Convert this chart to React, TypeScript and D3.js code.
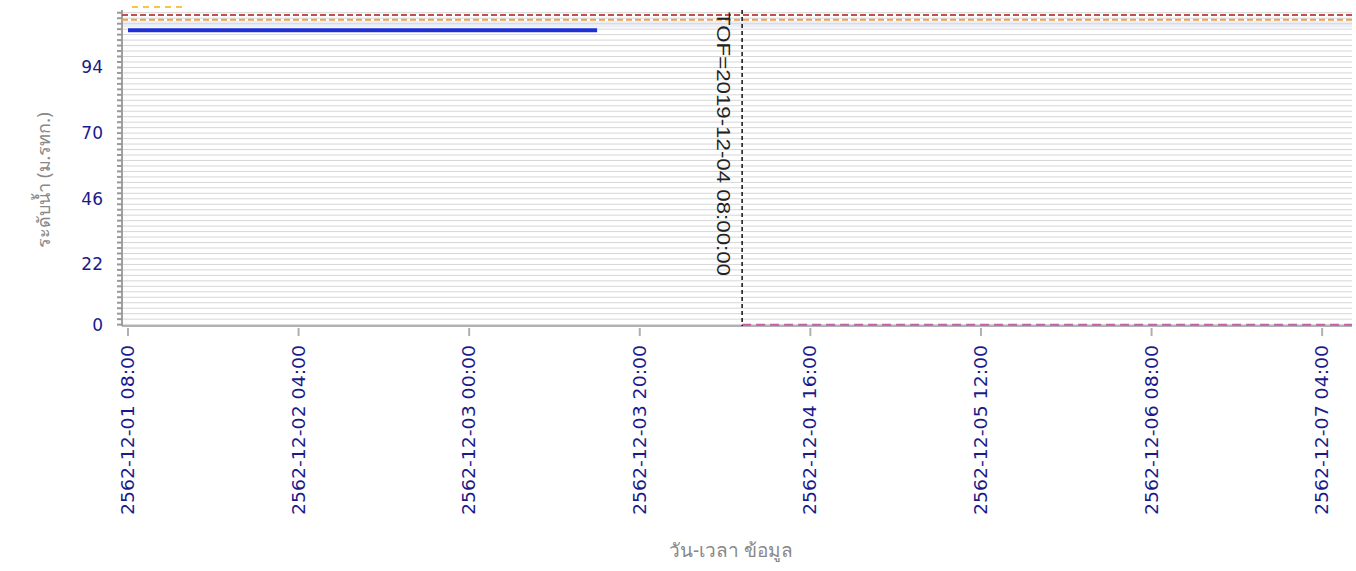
import React, { useEffect, useRef } from 'react';
import * as d3 from 'd3';

// Tick times (Gregorian) and their Buddhist-era labels
const tickTimes = [
  new Date(2019, 11, 1, 8), new Date(2019, 11, 2, 4), new Date(2019, 11, 3, 0), new Date(2019, 11, 3, 20),
  new Date(2019, 11, 4, 16), new Date(2019, 11, 5, 12), new Date(2019, 11, 6, 8), new Date(2019, 11, 7, 4),
];
const tickLabels = [
  '2562-12-01 08:00', '2562-12-02 04:00', '2562-12-03 00:00', '2562-12-03 20:00',
  '2562-12-04 16:00', '2562-12-05 12:00', '2562-12-06 08:00', '2562-12-07 04:00',
];
const yTicks = [0, 22, 46, 70, 94];

// Observed water level (blue)
const levelTimes = [
  new Date(2019, 11, 1, 8), new Date(2019, 11, 1, 16), new Date(2019, 11, 2, 0), new Date(2019, 11, 2, 8),
  new Date(2019, 11, 2, 16), new Date(2019, 11, 3, 0), new Date(2019, 11, 3, 8), new Date(2019, 11, 3, 15),
];
const levelValues = [107.6, 107.6, 107.6, 107.6, 107.6, 107.6, 107.6, 107.6];

// Reference levels
const bankLevel = 113.2;
const warnLevel = 111.4;
const forecastValue = 0;
const tofTime = new Date(2019, 11, 4, 8);
const domainStart = new Date(2019, 11, 1, 7, 18);
const domainEnd = new Date(2019, 11, 7, 7, 30);

const App: React.FC = () => {
  const svgRef = useRef<SVGSVGElement>(null);
  const width = 1356;
  const height = 571;
  const marginLeft = 122;
  const marginRight = 4;
  const marginTop = 10;
  const marginBottom = 245;

  useEffect(() => {
    if (!svgRef.current) return;
    const svg = d3.select(svgRef.current);
    svg.selectAll('*').remove();

    const innerWidth = width - marginLeft - marginRight;
    const innerHeight = height - marginTop - marginBottom;

    const x = d3.scaleTime().domain([domainStart, domainEnd]).range([0, innerWidth]);
    const y = d3.scaleLinear().domain([-0.5, 115]).range([innerHeight, 0]);

    const g = svg.append('g').attr('transform', `translate(${marginLeft},${marginTop})`);

    // light band near the observed level
    g.append('rect')
      .attr('x', 0)
      .attr('width', innerWidth)
      .attr('y', y(warnLevel - 0.4))
      .attr('height', y(108.6) - y(warnLevel - 0.4))
      .attr('fill', '#eceff8');

    // minor gridlines every 2 units
    const minor = d3.range(0, 116, 2);
    g.append('g')
      .selectAll('line')
      .data(minor)
      .enter()
      .append('line')
      .attr('x1', 0)
      .attr('x2', innerWidth)
      .attr('y1', d => y(d))
      .attr('y2', d => y(d))
      .attr('stroke', '#d6d6d6')
      .attr('stroke-width', 1);

    // y axis with minor ticks
    const yAxis = g.append('g');
    yAxis.append('line')
      .attr('x1', 0).attr('x2', 0)
      .attr('y1', 0).attr('y2', innerHeight)
      .attr('stroke', '#a0a0a0').attr('stroke-width', 2);
    yAxis.selectAll('line.minor')
      .data(minor)
      .enter()
      .append('line')
      .attr('class', 'minor')
      .attr('x1', -5).attr('x2', 0)
      .attr('y1', d => y(d)).attr('y2', d => y(d))
      .attr('stroke', '#999').attr('stroke-width', 2);
    yAxis.selectAll('text')
      .data(yTicks)
      .enter()
      .append('text')
      .attr('x', -19)
      .attr('y', d => y(d))
      .attr('dy', '0.35em')
      .attr('text-anchor', 'end')
      .attr('fill', '#1a1a8a')
      .attr('font-family', 'Verdana, DejaVu Sans, sans-serif')
      .attr('font-size', 17)
      .text(d => String(d));

    // x axis
    const xAxis = g.append('g').attr('transform', `translate(0,${innerHeight})`);
    xAxis.append('line')
      .attr('x1', 0).attr('x2', innerWidth)
      .attr('stroke', '#999').attr('stroke-width', 1.5);
    xAxis.selectAll('line.tick')
      .data(tickTimes)
      .enter()
      .append('line')
      .attr('class', 'tick')
      .attr('x1', d => x(d)).attr('x2', d => x(d))
      .attr('y1', 2).attr('y2', 10)
      .attr('stroke', '#b0b0b0').attr('stroke-width', 2);
    xAxis.selectAll('text')
      .data(tickTimes)
      .enter()
      .append('text')
      .attr('transform', d => `translate(${x(d)},19) rotate(-90)`)
      .attr('dy', '0.35em')
      .attr('text-anchor', 'end')
      .attr('fill', '#1a1a8a')
      .attr('font-family', 'Verdana, DejaVu Sans, sans-serif')
      .attr('font-size', 17)
      .attr('textLength', 170)
      .attr('lengthAdjust', 'spacingAndGlyphs')
      .text((d, i) => tickLabels[i]);

    // reference dashed lines
    g.append('line')
      .attr('x1', 0).attr('x2', innerWidth)
      .attr('y1', y(bankLevel)).attr('y2', y(bankLevel))
      .attr('stroke', '#c0504d').attr('stroke-width', 2)
      .attr('stroke-dasharray', '6,3');
    g.append('line')
      .attr('x1', 0).attr('x2', innerWidth)
      .attr('y1', y(warnLevel)).attr('y2', y(warnLevel))
      .attr('stroke', '#f0a050').attr('stroke-width', 2)
      .attr('stroke-dasharray', '6,3');
    svg.append('line')
      .attr('x1', marginLeft + 10).attr('x2', marginLeft + 62)
      .attr('y1', 7).attr('y2', 7)
      .attr('stroke', '#f5c842').attr('stroke-width', 2)
      .attr('stroke-dasharray', '6,5');

    // observed level
    const line = d3.line<number>()
      .x((d, i) => x(levelTimes[i]))
      .y(d => y(d));
    g.append('path')
      .datum(levelValues)
      .attr('d', line)
      .attr('fill', 'none')
      .attr('stroke', '#1f2fd8')
      .attr('stroke-width', 4);

    // forecast line after TOF
    g.append('line')
      .attr('x1', x(tofTime)).attr('x2', innerWidth)
      .attr('y1', y(forecastValue)).attr('y2', y(forecastValue))
      .attr('stroke', '#c060a8').attr('stroke-width', 2)
      .attr('stroke-dasharray', '9,5');

    // TOF marker
    g.append('line')
      .attr('x1', x(tofTime)).attr('x2', x(tofTime))
      .attr('y1', 0).attr('y2', innerHeight)
      .attr('stroke', '#111').attr('stroke-width', 1.5)
      .attr('stroke-dasharray', '4,3');
    g.append('text')
      .attr('transform', `translate(${x(tofTime) - 25},2) rotate(90)`)
      .attr('text-anchor', 'start')
      .attr('fill', '#222')
      .attr('font-family', 'Liberation Sans, Arial, sans-serif')
      .attr('font-size', 19)
      .attr('textLength', 264)
      .attr('lengthAdjust', 'spacingAndGlyphs')
      .text('TOF=2019-12-04 08:00:00');

    // axis titles
    svg.append('text')
      .attr('transform', `translate(50,${marginTop + innerHeight / 2 + 12}) rotate(-90)`)
      .attr('text-anchor', 'middle')
      .attr('fill', '#888')
      .attr('font-family', 'Tahoma, Noto Sans, sans-serif')
      .attr('font-size', 18)
      .text('ระดับน้ำ (ม.รทก.)');
    svg.append('text')
      .attr('x', 731)
      .attr('y', 557)
      .attr('text-anchor', 'middle')
      .attr('fill', '#888')
      .attr('font-family', 'Tahoma, Noto Sans, sans-serif')
      .attr('font-size', 19)
      .text('วัน-เวลา ข้อมูล');
  }, []);

  return (
    <svg
      ref={svgRef}
      width={width}
      height={height}
      style={{ position: 'absolute', left: 0, top: 0, background: '#fff' }}
    />
  );
};

export default App;
